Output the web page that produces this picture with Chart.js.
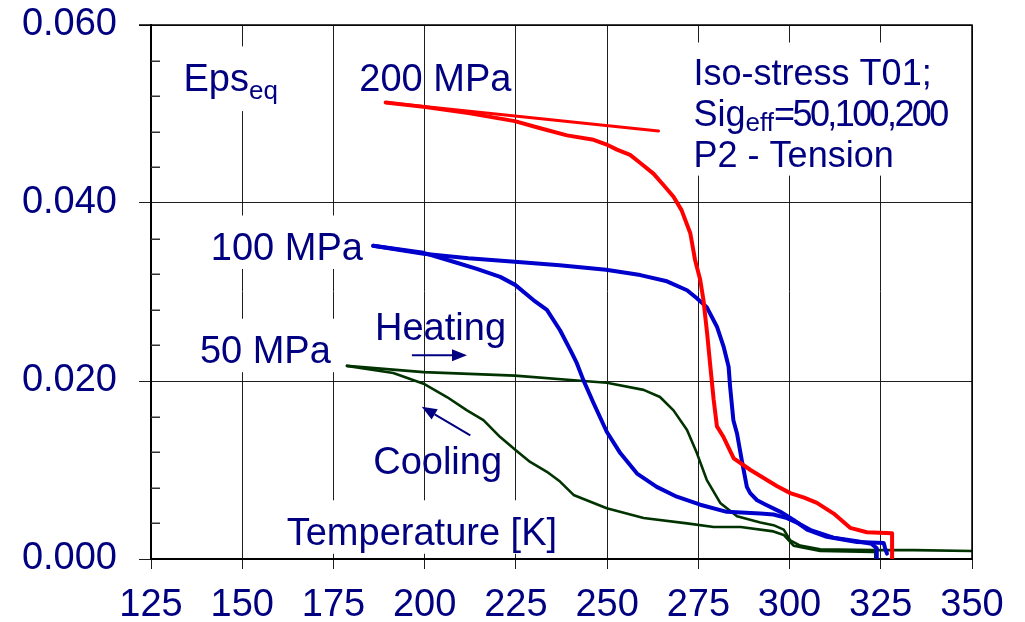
<!DOCTYPE html>
<html>
<head>
<meta charset="utf-8">
<script src="https://cdn.jsdelivr.net/npm/chart.js@4.4.1/dist/chart.umd.min.js"></script>
<style>
  html, body { margin: 0; padding: 0; background: #fff; }
  canvas { display: block; }
</style>
</head>
<body>
<canvas id="chart" width="1025" height="622"></canvas>
<script>
// Temperature axis and strain axis ticks
const T_TICKS = [125, 150, 175, 200, 225, 250, 275, 300, 325, 350];
const EPS_TICKS = [0.000, 0.020, 0.040, 0.060];
const EPS_MINOR_STEP = 0.004;

// 200 MPa: transformation curve and straight segment
const T_200 = [189.3, 199.7, 212.0, 224.7, 231.7, 239.0, 246.3, 249.7, 252.7, 256.3, 259.1, 262.7, 265.5, 268.2, 270.4, 272.8, 274.1, 275.5, 276.4, 277.4, 278.3, 279.2, 280.1, 281.9, 284.7, 289.3, 292.9, 296.5, 300.2, 304.0, 307.5, 312.1, 316.6, 321.2, 328.1, 328.1];
const EPS_200 = [0.0513, 0.0508, 0.0501, 0.0492, 0.0484, 0.0476, 0.0471, 0.0466, 0.0460, 0.0454, 0.0445, 0.0433, 0.0420, 0.0407, 0.0392, 0.0366, 0.0336, 0.0314, 0.0291, 0.0254, 0.0216, 0.0179, 0.0149, 0.0137, 0.0113, 0.0100, 0.0091, 0.0082, 0.0074, 0.0069, 0.0063, 0.0051, 0.0035, 0.0030, 0.0029, 0.0000];
const T_200_SEG = [189.3, 264.1];
const EPS_200_SEG = [0.0513, 0.0481];

// 100 MPa: heating and cooling branches
const T_100_HEAT = [185.9, 199.7, 212.0, 224.7, 237.0, 249.7, 259.1, 266.4, 271.9, 274.6, 277.3, 280.1, 281.9, 283.3, 283.7, 284.6, 285.6, 286.9, 288.3, 289.2, 291.1, 293.5, 297.5, 301.1, 304.8, 310.2, 318.5, 325.8, 326.2, 326.7];
const EPS_100_HEAT = [0.0352, 0.0343, 0.0338, 0.0334, 0.0330, 0.0325, 0.0319, 0.0312, 0.0302, 0.0293, 0.0283, 0.0261, 0.0239, 0.0216, 0.0194, 0.0156, 0.0141, 0.0111, 0.0081, 0.0074, 0.0066, 0.0061, 0.0053, 0.0044, 0.0033, 0.0025, 0.0019, 0.0018, 0.0012, 0.0006];
const T_100_COOL = [185.9, 199.7, 207.9, 214.3, 220.7, 224.8, 229.8, 233.5, 237.1, 239.9, 241.7, 243.5, 246.3, 249.9, 253.6, 258.2, 263.6, 269.1, 275.5, 282.8, 292.0, 295.6, 299.3, 302.5, 306.0, 312.0, 318.5, 322.5, 323.9, 323.9];
const EPS_100_COOL = [0.0352, 0.0344, 0.0334, 0.0326, 0.0317, 0.0308, 0.0291, 0.0280, 0.0257, 0.0235, 0.0220, 0.0201, 0.0175, 0.0143, 0.0119, 0.0096, 0.0081, 0.0070, 0.0061, 0.0053, 0.0051, 0.0050, 0.0046, 0.0040, 0.0032, 0.0024, 0.0020, 0.0017, 0.0012, 0.0001];

// 50 MPa: heating and cooling branches
const T_50_HEAT = [178.7, 199.7, 224.7, 243.5, 249.9, 260.0, 264.5, 268.2, 271.9, 274.6, 277.3, 281.0, 285.6, 292.0, 295.6, 298.4, 300.2, 302.9, 308.4, 323.0, 334.0, 350.0];
const EPS_50_HEAT = [0.0217, 0.0210, 0.0206, 0.0200, 0.0198, 0.0190, 0.0182, 0.0167, 0.0145, 0.0119, 0.0089, 0.0063, 0.0048, 0.0041, 0.0038, 0.0033, 0.0021, 0.0015, 0.0011, 0.0010, 0.0010, 0.0009];
const T_50_COOL = [178.7, 191.4, 199.7, 206.1, 211.6, 216.1, 220.7, 225.3, 228.9, 233.5, 237.1, 240.8, 249.9, 260.0, 271.9, 279.2, 286.6, 295.6, 298.4, 301.1, 308.4, 323.0, 323.5, 323.5];
const EPS_50_COOL = [0.0217, 0.0209, 0.0197, 0.0182, 0.0167, 0.0156, 0.0137, 0.0121, 0.0109, 0.0098, 0.0087, 0.0072, 0.0057, 0.0046, 0.0040, 0.0036, 0.0036, 0.0031, 0.0027, 0.0015, 0.0009, 0.0008, 0.0008, 0.0001];

const FONT = '"Liberation Sans", Arial, sans-serif';
const NAVY = '#000080';
const RED = '#ff0000';
const BLUE = '#0000cc';
const GREEN = '#003300';
const SUB = 26;

function pts(xs, ys) { return xs.map((x, i) => ({ x, y: ys[i] })); }

function series(xs, ys, color, width, order) {
  return {
    data: pts(xs, ys), showLine: true, borderColor: color, backgroundColor: color,
    borderWidth: width, pointRadius: 0, tension: 0, fill: false, order,
    borderJoinStyle: 'round', borderCapStyle: 'round'
  };
}

// Text notes anchored in data coordinates (left edge, first baseline)
const NOTES = [
  { x: 133.9, y: 0.0526, box: true, lines: [[{ t: 'Eps' }, { t: 'eq', s: SUB, dy: 8 }]] },
  { x: 182.1, y: 0.0526, lines: [[{ t: '200 MPa' }]] },
  { x: 273.7, y: 0.0533, box: true, size: 36, lead: 41, lines: [
      [{ t: 'Iso-stress T01;' }],
      [{ t: 'Sig' }, { t: 'eff', s: SUB, dy: 5 }, { t: '=50,100,200', ls: -2.6 }],
      [{ t: 'P2 - Tension' }]] },
  { x: 141.4, y: 0.0336, box: true, lines: [[{ t: '100 MPa' }]] },
  { x: 138.4, y: 0.0220, box: true, lines: [[{ t: '50 MPa' }]] },
  { x: 186.4, y: 0.0246, lines: [[{ t: 'Heating' }]] },
  { x: 185.9, y: 0.0096, lines: [[{ t: 'Cooling' }]] },
  { x: 162.2, y: 0.0016, box: true, lines: [[{ t: 'Temperature [K]' }]] }
];

const ARROWS = [
  { from: [196.5, 0.0229], to: [211.6, 0.0229] },
  { from: [212.5, 0.0139], to: [199.2, 0.0171] }
];

function drawRun(ctx, run, size, x, y) {
  const s = run.s || size;
  ctx.font = s + 'px ' + FONT;
  ctx.letterSpacing = (run.ls || 0) + 'px';
  ctx.fillText(run.t, x, y + (run.dy || 0));
  const w = ctx.measureText(run.t).width;
  ctx.letterSpacing = '0px';
  return w;
}

function measureLine(ctx, line, size) {
  let w = 0;
  for (const run of line) {
    ctx.font = (run.s || size) + 'px ' + FONT;
    ctx.letterSpacing = (run.ls || 0) + 'px';
    w += ctx.measureText(run.t).width;
  }
  ctx.letterSpacing = '0px';
  return w;
}

const notesPlugin = {
  id: 'notes',
  beforeDatasetsDraw(chart) {
    const { ctx, scales: { x, y } } = chart;
    ctx.save();
    ctx.fillStyle = '#ffffff';
    for (const n of NOTES) {
      if (!n.box) continue;
      const size = n.size || 38, lead = n.lead || 41;
      const px = x.getPixelForValue(n.x), py = y.getPixelForValue(n.y);
      let w = 0;
      for (const line of n.lines) w = Math.max(w, measureLine(ctx, line, size));
      const last = n.lines[n.lines.length - 1];
      const maxDy = Math.max(0, ...last.map(r => r.dy || 0));
      const top = py - size * 1.17;
      const bottom = py + (n.lines.length - 1) * lead + 9 + maxDy * 1.4;
      ctx.fillRect(px - 9, top, w + 18, bottom - top);
    }
    ctx.restore();
  },
  afterDatasetsDraw(chart) {
    const { ctx, scales: { x, y } } = chart;
    ctx.save();
    ctx.fillStyle = NAVY;
    ctx.textBaseline = 'alphabetic';
    ctx.textAlign = 'left';
    for (const n of NOTES) {
      const size = n.size || 38, lead = n.lead || 41;
      const px = x.getPixelForValue(n.x), py = y.getPixelForValue(n.y);
      n.lines.forEach((line, i) => {
        let cx = px;
        for (const run of line) cx += drawRun(ctx, run, size, cx, py + i * lead);
      });
    }
    ctx.strokeStyle = NAVY;
    ctx.lineWidth = 2;
    for (const a of ARROWS) {
      const x0 = x.getPixelForValue(a.from[0]), y0 = y.getPixelForValue(a.from[1]);
      const x1 = x.getPixelForValue(a.to[0]), y1 = y.getPixelForValue(a.to[1]);
      const ang = Math.atan2(y1 - y0, x1 - x0);
      const hl = 15, hw = 6;
      const bx = x1 - hl * Math.cos(ang), by = y1 - hl * Math.sin(ang);
      ctx.beginPath();
      ctx.moveTo(x0, y0);
      ctx.lineTo(bx, by);
      ctx.stroke();
      ctx.beginPath();
      ctx.moveTo(x1, y1);
      ctx.lineTo(bx + hw * Math.sin(ang), by - hw * Math.cos(ang));
      ctx.lineTo(bx - hw * Math.sin(ang), by + hw * Math.cos(ang));
      ctx.closePath();
      ctx.fill();
    }
    ctx.restore();
  }
};

// Inside minor ticks on the strain axis and the top/right frame
const framePlugin = {
  id: 'frame',
  afterDraw(chart) {
    const { ctx, chartArea: a, scales: { y } } = chart;
    ctx.save();
    ctx.strokeStyle = '#333';
    ctx.lineWidth = 1.5;
    const n = Math.round((y.max - y.min) / EPS_MINOR_STEP);
    for (let i = 1; i < n; i++) {
      const v = y.min + i * EPS_MINOR_STEP;
      if (EPS_TICKS.some(t => Math.abs(t - v) < 1e-9)) continue;
      const py = Math.round(y.getPixelForValue(v)) + 0.25;
      ctx.beginPath();
      ctx.moveTo(a.left, py);
      ctx.lineTo(a.left + 9, py);
      ctx.stroke();
    }
    ctx.strokeStyle = '#000';
    ctx.lineWidth = 1.5;
    ctx.beginPath();
    ctx.moveTo(a.left - 12, a.top);
    ctx.lineTo(a.right, a.top);
    ctx.lineTo(a.right, a.bottom);
    ctx.stroke();
    ctx.restore();
  }
};

new Chart(document.getElementById('chart'), {
  type: 'scatter',
  data: {
    datasets: [
      series(T_200, EPS_200, RED, 4, 0),
      series(T_200_SEG, EPS_200_SEG, RED, 3, 0),
      series(T_100_HEAT, EPS_100_HEAT, BLUE, 4, 1),
      series(T_100_COOL, EPS_100_COOL, BLUE, 4, 1),
      series(T_50_HEAT, EPS_50_HEAT, GREEN, 2.6, 2),
      series(T_50_COOL, EPS_50_COOL, GREEN, 2.6, 2)
    ]
  },
  options: {
    responsive: false,
    devicePixelRatio: 1,
    animation: false,
    events: [],
    layout: { padding: { top: 25, right: 53, left: 0, bottom: 0 } },
    plugins: { legend: { display: false }, tooltip: { enabled: false } },
    scales: {
      x: {
        type: 'linear',
        min: T_TICKS[0],
        max: T_TICKS[T_TICKS.length - 1],
        afterBuildTicks(scale) { scale.ticks = T_TICKS.map(v => ({ value: v })); },
        afterFit(scale) {
          scale.height = 63;
          scale.paddingLeft = 0; scale.paddingRight = 0;
          scale.paddingTop = 0; scale.paddingBottom = 0;
        },
        ticks: { color: NAVY, font: { family: FONT, size: 38 }, padding: 14, maxRotation: 0, autoSkip: false },
        grid: { color: '#1e1e1e', lineWidth: 1, tickLength: 10 },
        border: { display: true, color: '#000', width: 2 }
      },
      y: {
        type: 'linear',
        min: EPS_TICKS[0],
        max: EPS_TICKS[EPS_TICKS.length - 1],
        afterBuildTicks(scale) { scale.ticks = EPS_TICKS.map(v => ({ value: v })); },
        afterFit(scale) {
          scale.width = 151;
          scale.paddingLeft = 0; scale.paddingRight = 0;
          scale.paddingTop = 0; scale.paddingBottom = 0;
        },
        ticks: { color: NAVY, font: { family: FONT, size: 38 }, padding: 22, callback: v => v.toFixed(3) },
        grid: { color: '#1e1e1e', lineWidth: 1, tickLength: 12 },
        border: { display: true, color: '#000', width: 2 }
      }
    }
  },
  plugins: [notesPlugin, framePlugin]
});
</script>
</body>
</html>
